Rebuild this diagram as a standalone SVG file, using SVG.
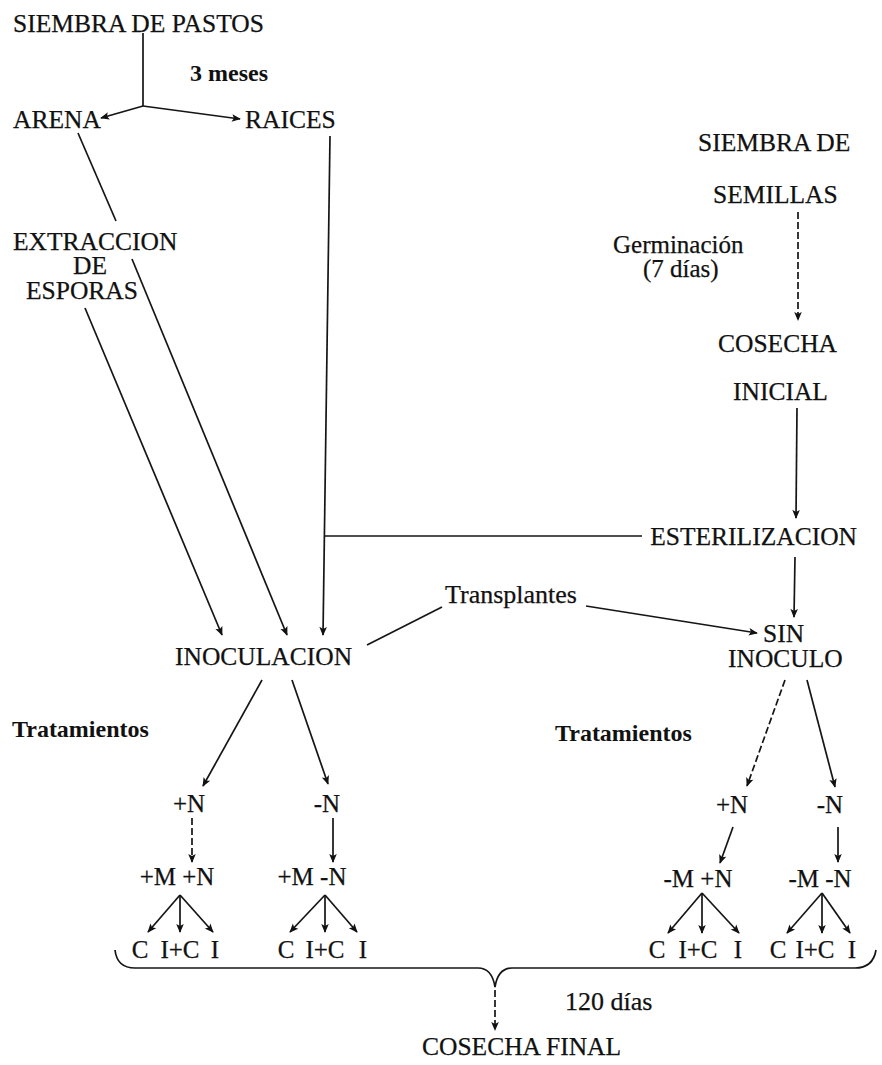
<svg xmlns="http://www.w3.org/2000/svg" width="882" height="1065" viewBox="0 0 882 1065">
<style>
text{font-family:"Liberation Serif","Times New Roman",serif;fill:#111;font-size:25.5px;stroke:#111;stroke-width:0.25}
.b{font-weight:bold;font-size:24px;stroke-width:0}
.s{font-size:25px}
.m{text-anchor:middle}
.e{text-anchor:end}
.ln{stroke:#151515;stroke-width:1.7;fill:none}
.ar{marker-end:url(#ah)}
.d{stroke-dasharray:7 3}
</style>
<defs>
<marker id="ah" viewBox="0 0 10 10" refX="9" refY="5" markerWidth="10" markerHeight="9" markerUnits="userSpaceOnUse" orient="auto">
<path d="M0,0.8 L10,5 L0,9.2 L2.2,5 z" fill="#111"/>
</marker>
</defs>
<rect width="882" height="1065" fill="#fff"/>

<g id="connectors">
<path class="ln" d="M143,33 L143,106"/>
<path class="ln ar" d="M143,106 L101,118"/>
<path class="ln ar" d="M143,106 L240,119"/>
<path class="ln" d="M78,133 L116,221"/>
<path class="ln ar" d="M132,259 L287,635"/>
<path class="ln ar" d="M85,308 L222,635"/>
<path class="ln ar" d="M330,136 L323,635"/>
<path class="ln" d="M325,536 L642,536"/>
<path class="ln ar d" d="M798,212 L798,320"/>
<path class="ln ar" d="M797,408 L796,518"/>
<path class="ln ar" d="M795,557 L794,617"/>
<path class="ln" d="M367,645 L442,607"/>
<path class="ln ar" d="M586,606 L757,633"/>
<path class="ln ar" d="M262,680 L203,786"/>
<path class="ln ar" d="M292,680 L328,784"/>
<path class="ln ar d" d="M785,680 L747,786"/>
<path class="ln ar" d="M807,680 L835,787"/>
<path class="ln ar d" d="M192,818 L192,862"/>
<path class="ln ar" d="M333,818 L333,862"/>
<path class="ln ar" d="M733,827 L720,863"/>
<path class="ln ar" d="M838,827 L838,862"/>
<path class="ln ar" d="M180,895 L148,932"/>
<path class="ln ar" d="M180,895 L180,932"/>
<path class="ln ar" d="M180,895 L213,932"/>
<path class="ln ar" d="M325,895 L290,932"/>
<path class="ln ar" d="M325,895 L325,932"/>
<path class="ln ar" d="M325,895 L357,932"/>
<path class="ln ar" d="M702,893 L668,933"/>
<path class="ln ar" d="M702,893 L702,933"/>
<path class="ln ar" d="M702,893 L739,933"/>
<path class="ln ar" d="M822,893 L787,933"/>
<path class="ln ar" d="M822,893 L822,933"/>
<path class="ln ar" d="M822,893 L850,933"/>
<path class="ln" d="M115,950 Q117,968 135,968 L478,968 Q492,968 495,987 Q498,968 512,968 L855,968 Q873,968 876,950"/>
<path class="ln ar d" d="M495,990 L495,1030"/>
</g>

<g id="labels">
<text class="b" x="190" y="81">3 meses</text>
<text class="s" x="613" y="253">Germinación<tspan x="643" y="277">(7 días)</tspan></text>
<text x="445" y="603" style="font-size:26px">Transplantes</text>
<text class="b" x="12" y="737">Tratamientos</text>
<text class="b" x="555" y="741">Tratamientos</text>
<text x="565" y="1010" style="font-size:26px">120 días</text>
</g>

<g id="n-siembra-pastos"><text x="13" y="32">SIEMBRA DE PASTOS</text></g>
<g id="n-arena"><text x="13" y="128">ARENA</text></g>
<g id="n-raices"><text x="245" y="128">RAICES</text></g>
<g id="n-extraccion"><text x="13" y="250">EXTRACCION<tspan x="73" y="274">DE</tspan><tspan x="26" y="299">ESPORAS</tspan></text></g>
<g id="n-siembra-semillas"><text x="698" y="151">SIEMBRA DE<tspan x="713" y="203">SEMILLAS</tspan></text></g>
<g id="n-cosecha-inicial"><text x="718" y="352">COSECHA<tspan x="733" y="400">INICIAL</tspan></text></g>
<g id="n-esterilizacion"><text class="e" x="857" y="545">ESTERILIZACION</text></g>
<g id="n-inoculacion"><text x="175" y="665">INOCULACION</text></g>
<g id="n-sin-inoculo"><text x="763" y="642">SIN<tspan x="728" y="667">INOCULO</tspan></text></g>
<g id="n-inoc-pN"><text class="m s" x="189" y="812">+N</text></g>
<g id="n-inoc-mN"><text class="m s" x="327" y="812">-N</text></g>
<g id="n-sin-pN"><text class="m s" x="732" y="813">+N</text></g>
<g id="n-sin-mN"><text class="m s" x="830" y="813">-N</text></g>
<g id="n-pMpN"><text class="m s" x="177" y="885">+M +N</text></g>
<g id="n-pMmN"><text class="m s" x="312" y="885">+M -N</text></g>
<g id="n-mMpN"><text class="m s" x="698" y="887">-M +N</text></g>
<g id="n-mMmN"><text class="m s" x="820" y="887">-M -N</text></g>
<g id="n-leaves-1"><text class="m s" x="140" y="958">C</text><text class="m s" x="180" y="958">I+C</text><text class="m s" x="215" y="958">I</text></g>
<g id="n-leaves-2"><text class="m s" x="286" y="958">C</text><text class="m s" x="325" y="958">I+C</text><text class="m s" x="363" y="958">I</text></g>
<g id="n-leaves-3"><text class="m s" x="657" y="958">C</text><text class="m s" x="698" y="958">I+C</text><text class="m s" x="738" y="958">I</text></g>
<g id="n-leaves-4"><text class="m s" x="778" y="958">C</text><text class="m s" x="815" y="958">I+C</text><text class="m s" x="852" y="958">I</text></g>
<g id="n-cosecha-final"><text x="422" y="1055">COSECHA FINAL</text></g>
</svg>
